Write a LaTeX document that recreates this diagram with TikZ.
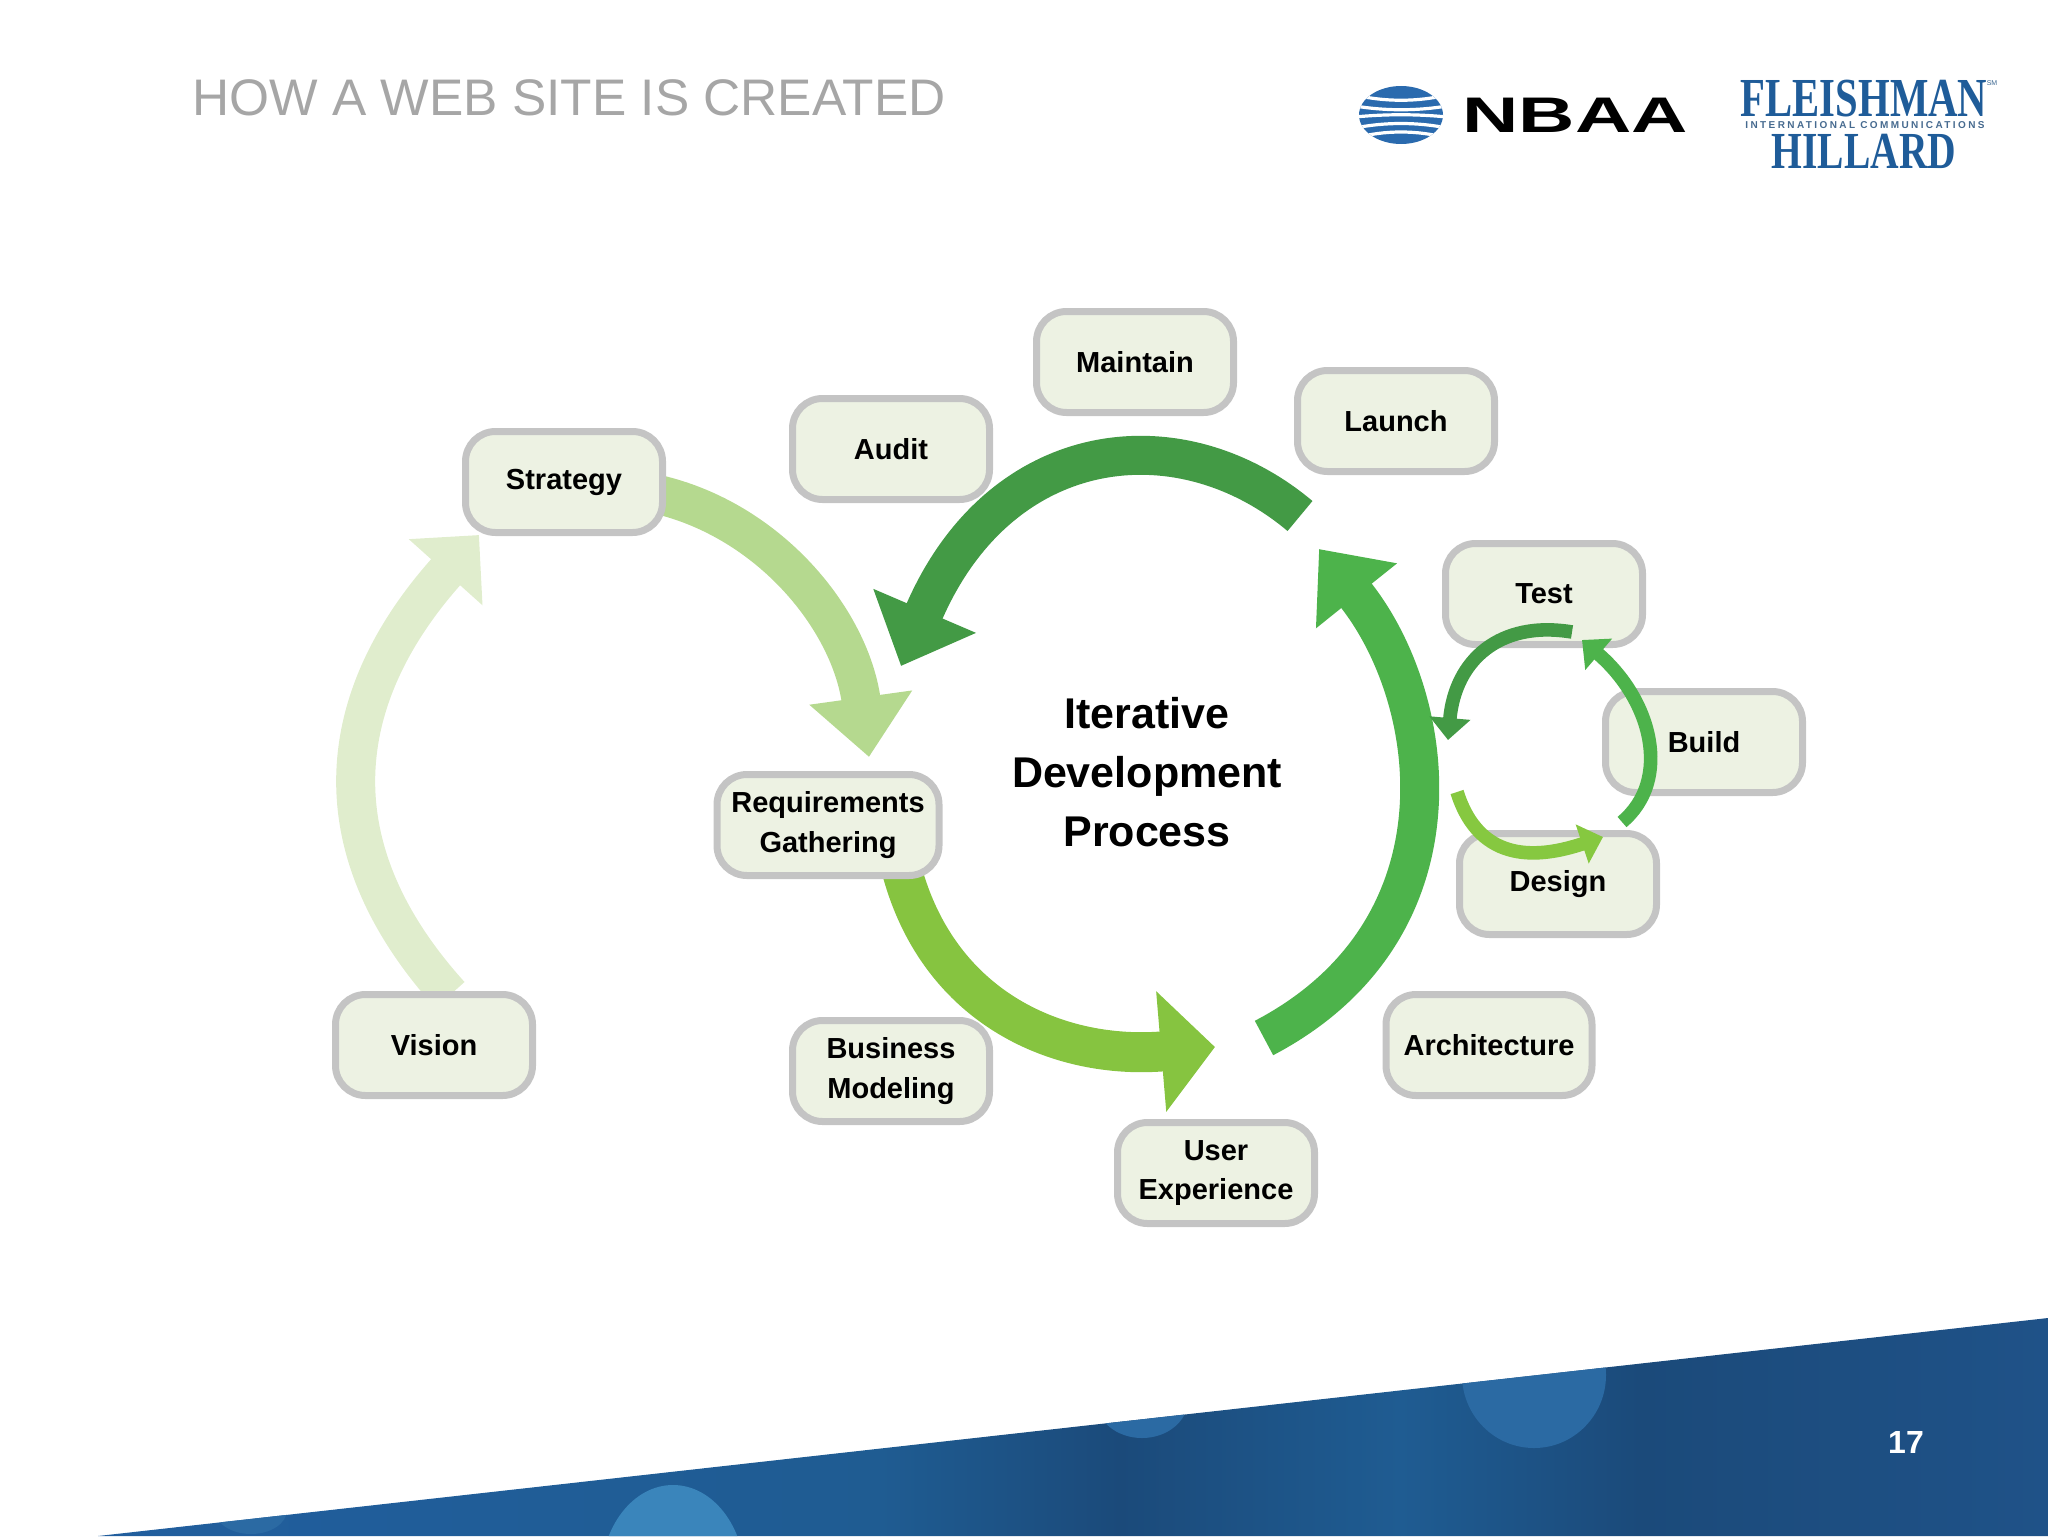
\documentclass[tikz,border=0pt]{standalone}
\usepackage{fontspec}
\setmainfont{Liberation Sans}
\newfontfamily\logoserif{Liberation Serif}
\newfontfamily\logospaced[LetterSpace=24]{Liberation Sans}
\usetikzlibrary{arrows.meta,backgrounds}
\definecolor{hgrey}{RGB}{196,196,196}
\definecolor{htitle}{RGB}{166,166,166}
\definecolor{hbox}{RGB}{237,242,227}
\definecolor{hvision}{RGB}{224,237,205}
\definecolor{hstrategy}{RGB}{181,217,143}
\definecolor{hreq}{RGB}{134,196,64}
\definecolor{hright}{RGB}{77,179,75}
\definecolor{htop}{RGB}{67,154,69}
\definecolor{hdesign}{RGB}{134,200,64}
\definecolor{hlogo}{RGB}{31,92,153}
\definecolor{hglobe}{RGB}{42,106,174}
\definecolor{hbandl}{RGB}{33,94,158}
\definecolor{hbandm}{RGB}{31,92,146}
\definecolor{hbandd}{RGB}{27,74,122}
\definecolor{hbandr}{RGB}{31,82,136}
\definecolor{hblobl}{RGB}{58,133,187}
\definecolor{hblobr}{RGB}{43,106,163}
\tikzset{
  stagebox/.style={draw=hgrey,fill=hbox,line width=3.5pt,rounded corners=15pt,minimum width=98.5pt,minimum height=50.5pt,inner sep=0pt,align=center,font=\bfseries\fontsize{14.5}{19.6}\selectfont},
  bigflow/.style={line width=#1*0.5pt},
  smallflow/.style={line width=6.8pt,-{Triangle[length=11pt,width=20pt]}}
}
\newcommand{\stage}[3]{\node[stagebox] (#1) at (#2){#3};}
\newcommand{\ver}[2]{\coordinate (#1) at (#2);}
\begin{document}
\begin{tikzpicture}[x=0.5pt,y=-0.5pt]
    \useasboundingbox (0,0) rectangle (2048,1536);
    \node[anchor=west,text=htitle,inner sep=0pt,font=\fontsize{25.7}{30}\selectfont] (title) at (192,98) {HOW A WEB SITE IS CREATED};

    \begin{scope}
      \clip (1401,115) ellipse [x radius=42,y radius=29];
      \fill[hglobe] (1355,80) rectangle (1447,150);
      \foreach \yy/\bb in {95/-7,106/-5,117/3,128/6,138/8}{
        \draw[white,line width=1.6pt] (1355,\yy) .. controls (1385,\yy-\bb) and (1417,\yy-\bb) .. (1447,\yy);
      }
    \end{scope}
    \node[transform shape,xscale=1.56,inner sep=0pt,font=\bfseries\fontsize{25}{25}\selectfont] (nbaa) at (1575,115) {NBAA};
    \node[transform shape,xscale=.74,inner sep=0pt,text=hlogo,font=\logoserif\bfseries\fontsize{27.5}{27.5}\selectfont] (fleishman) at (1864,99) {FLEISHMAN};
    \node[inner sep=0pt,text=hlogo!70!gray,font=\fontsize{3.5}{4}\selectfont] (sm) at (1992,83) {SM};
    \node[inner sep=0pt,text=hlogo!60!gray,font=\logospaced\bfseries\fontsize{5}{5}\selectfont] (intl) at (1865,125) {INTERNATIONAL COMMUNICATIONS};
    \node[transform shape,xscale=.76,inner sep=0pt,text=hlogo,font=\logoserif\bfseries\fontsize{26}{26}\selectfont] (hillard) at (1864,151) {HILLARD};

    \ver{bandl}{98,1536};
    \ver{bandr}{2048,1318};
    \ver{bandc}{2048,1536};
    \begin{scope}
      \clip (bandl) -- (bandr) -- (bandc) -- cycle;
      \shade[left color=hbandl,right color=hbandm] (90,1300) rectangle (880,1536);
      \shade[left color=hbandm,right color=hbandd] (880,1300) rectangle (1120,1536);
      \shade[left color=hbandd,right color=hbandm] (1120,1300) rectangle (1400,1536);
      \shade[left color=hbandm,right color=hbandd] (1400,1300) rectangle (1640,1536);
      \shade[left color=hbandd,right color=hbandr] (1640,1300) rectangle (2048,1536);
      \fill[hblobl] (673,1578) ellipse [x radius=72,y radius=93];
      \fill[hblobr] (1534,1375) ellipse [x radius=72,y radius=73];
      \fill[hblobr] (1142,1400) ellipse [x radius=46,y radius=38];
      \fill[hblobr] (251,1510) ellipse [x radius=36,y radius=24];
    \end{scope}
    \node[text=white,inner sep=0pt,font=\bfseries\fontsize{16}{16}\selectfont] (page) at (1906,1442) {17};

    \stage{strategy}{564,482}{Strategy}
    \stage{audit}{891,449}{Audit}
    \stage{maintain}{1135,362}{Maintain}
    \stage{launch}{1396,421}{Launch}
    \stage{test}{1544,594}{Test}
    \stage{build}{1704,742}{Build}
    \stage{design}{1558,884}{Design}
    \node[stagebox,minimum width=103pt] (architecture) at (1489,1045) {Architecture};
    \stage{userexp}{1216,1173}{User\\Experience}
    \stage{business}{891,1071}{Business\\Modeling}
    \stage{vision}{434,1045}{Vision}
    \node[stagebox,minimum width=111pt] (req) at (828,825) {Requirements\\Gathering};
    \node[align=center,inner sep=0pt,font=\bfseries\fontsize{21.5}{29.4}\selectfont] (iterative) at (1147,772) {Iterative\\Development\\Process};

    \ver{visiontip}{479,535};
    \ver{strategytip}{869,757};
    \ver{reqtip}{1215,1047};
    \ver{rightstart}{1264,1038};
    \ver{righttip}{1319,549};
    \ver{topstart}{1300,516};
    \ver{toptip}{901,666};
    \begin{scope}[on background layer]
      \draw[hvision,bigflow=39,-{Triangle[length=25pt,width=48pt]}] ([xshift=8pt,yshift=-2pt]vision.north) .. controls (310,840) and (340,690) .. (visiontip);
      \draw[hstrategy,bigflow=39,-{Triangle[length=30pt,width=50pt]}] ([xshift=-5pt,yshift=-6pt]strategy.east) .. controls (770,520) and (850,620) .. (strategytip);
      \draw[hreq,bigflow=40,-{Triangle[length=27pt,width=59pt]}] ([xshift=37pt,yshift=4pt]req.south) .. controls (940,1010) and (1060,1060) .. (reqtip);
      \draw[hright,bigflow=39,-{Triangle[length=30pt,width=50pt]}] (rightstart) .. controls (1470,930) and (1440,700) .. (righttip);
      \draw[htop,bigflow=39,-{Triangle[length=30pt,width=54pt]}] (topstart) .. controls (1180,415) and (1000,435) .. (toptip);
    \end{scope}

    \ver{testfrom}{1572,632};
    \ver{testtip}{1448,740};
    \ver{buildfrom}{1622,822};
    \ver{buildtip}{1582,640};
    \ver{designfrom}{1457,792};
    \ver{designtip}{1603,837};
    \draw[htop,smallflow] (testfrom) .. controls (1500,620) and (1455,660) .. (testtip);
    \draw[hright,smallflow] (buildfrom) .. controls (1672,780) and (1652,700) .. (buildtip);
    \draw[hdesign,smallflow] (designfrom) .. controls (1480,865) and (1540,858) .. (designtip);
\end{tikzpicture}
\end{document}
